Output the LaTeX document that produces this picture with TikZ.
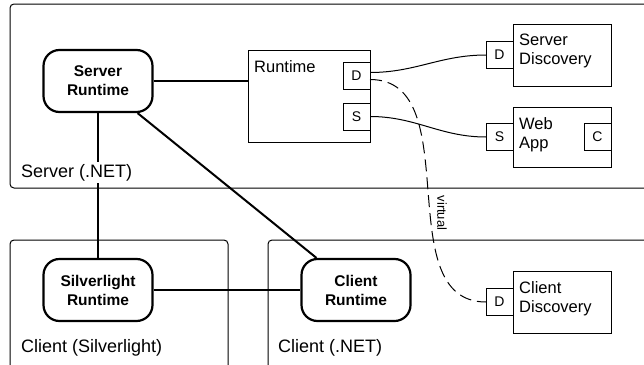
\documentclass[tikz,border=0pt]{standalone}
\usepackage{fontspec}
\setmainfont{Liberation Sans}
\usetikzlibrary{positioning}

\begin{document}
\begin{tikzpicture}[x=1pt, y=-1pt,
    runtime/.style={draw, line width=2.2pt, rounded corners=16pt, minimum width=109pt, minimum height=62pt, align=center, font=\bfseries\fontsize{15.5}{19}\selectfont},
    comp/.style={draw, line width=1pt, anchor=north west, inner sep=0pt, outer sep=0pt},
    port/.style={draw, fill=white, line width=1pt, minimum size=27pt, inner sep=0pt, outer sep=0pt, font=\fontsize{14}{16}\selectfont},
    boxlabel/.style={anchor=north west, inner sep=0pt, align=left, font=\fontsize{16.5}{19}\selectfont},
    region/.style={draw, line width=1pt, rounded corners=4pt},
    regionlabel/.style={anchor=base west, fill=white, inner sep=2pt, font=\fontsize{18}{21}\selectfont},
    link/.style={line width=2pt},
    wire/.style={line width=1pt}]

    \path[use as bounding box, clip] (0,0) rectangle (644,364);

    % regions
    \draw[region] (10,4) rectangle (660,188);
    \draw[region] (10,240) rectangle (228,380);
    \draw[region] (268,240) rectangle (660,380);

    % runtimes
    \node[runtime] (srvrt) at (98,81) {Server\\Runtime};
    \node[runtime] (slrt) at (98,290) {Silverlight\\Runtime};
    \node[runtime] (clrt) at (356,290) {Client\\Runtime};

    % server side
    \node[comp, minimum width=122pt, minimum height=92pt] (rt) at (248,50) {};
    \node[boxlabel] (rtlabel) at ([shift={(6,10)}]rt.north west) {Runtime};
    \node[port, anchor=north east] (rtd) at ([yshift=-12pt]rt.north east) {D};
    \node[port, anchor=north east] (rts) at ([yshift=-53pt]rt.north east) {S};

    \node[comp, minimum width=98pt, minimum height=62pt] (sd) at (513,24) {};
    \node[boxlabel] (sdlabel) at ([shift={(6,10)}]sd.north west) {Server\\Discovery};
    \node[port, left=0pt of sd] (sdd) {D};

    \node[comp, minimum width=98pt, minimum height=60pt] (wa) at (513,107) {};
    \node[boxlabel] (walabel) at ([shift={(6,10)}]wa.north west) {Web\\App};
    \node[port, left=0pt of wa] (was) {S};
    \node[port, anchor=east] (wac) at (wa.east) {C};

    % client side
    \node[comp, minimum width=98pt, minimum height=62pt] (cd) at (513,271) {};
    \node[boxlabel] (cdlabel) at ([shift={(6,10)}]cd.north west) {Client\\Discovery};
    \node[port, left=0pt of cd] (cdd) {D};

    % links
    \draw[link] (srvrt.east) -- (srvrt.east -| rt.west);
    \draw[link] (srvrt) -- (slrt);
    \draw[link] (srvrt) -- (clrt);
    \draw[link] (slrt) -- (clrt);

    \draw[wire] ([yshift=3pt]rtd.east) to[out=0, in=180] (sdd.west);
    \draw[wire] (rts.east) to[out=0, in=180] (was.west);
    \draw[wire, dash pattern=on 12pt off 6pt] ([yshift=-4pt]rtd.east) to[out=0, in=180] (cdd.west);
    \node[rotate=-90, font=\fontsize{13}{15}\selectfont] (virt) at (442,213) {virtual};

    % region labels
    \node[regionlabel] (srvlabel) at (19,177) {Server (.NET)};
    \node[regionlabel] (sllabel) at (19,352) {Client (Silverlight)};
    \node[regionlabel] (cllabel) at (276,352) {Client (.NET)};

\end{tikzpicture}
\end{document}
